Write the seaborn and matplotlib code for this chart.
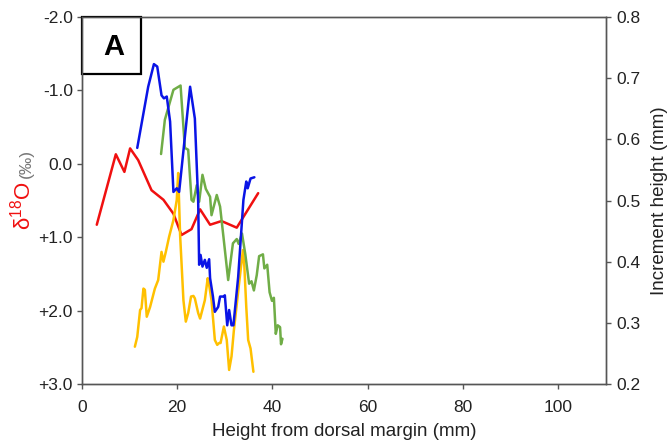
import numpy as np
import pandas as pd
import matplotlib
matplotlib.use("Agg")
import matplotlib.pyplot as plt
from matplotlib.patches import Rectangle
import seaborn as sns

# δ18O profile (left axis, inverted)
o18_height = [3.1, 7.1, 8.9, 10.1, 11.8, 14.6, 17.1, 19.2, 20.9, 23.0, 24.8,
              26.9, 29.3, 32.5, 37.0]
o18_value = [0.83, -0.13, 0.11, -0.21, -0.05, 0.36, 0.49, 0.68, 0.97, 0.89,
             0.62, 0.83, 0.78, 0.87, 0.40]

# Increment height profiles (right axis)
blue_height = [11.6, 13.9, 15.1, 15.8, 16.7, 17.2, 17.8, 18.5, 19.2, 19.9, 20.4,
               22.7, 23.7, 24.4, 24.6, 24.9, 25.3, 25.8, 26.2, 26.7, 26.9, 27.5,
               27.9, 28.6, 29.0, 29.7, 30.0, 30.5, 30.9, 31.4, 31.8, 32.8, 33.9,
               34.5, 34.8, 35.4, 36.2]
blue_incr = [0.586, 0.686, 0.723, 0.719, 0.672, 0.667, 0.670, 0.629, 0.514, 0.520,
             0.514, 0.686, 0.634, 0.498, 0.395, 0.411, 0.392, 0.403, 0.390, 0.404,
             0.373, 0.343, 0.318, 0.326, 0.343, 0.343, 0.345, 0.296, 0.321, 0.296,
             0.296, 0.375, 0.501, 0.531, 0.520, 0.536, 0.538]

green_height = [16.6, 17.4, 19.2, 20.7, 21.6, 22.3, 23.0, 23.4, 24.1, 24.6, 25.3,
                26.0, 26.9, 27.2, 28.3, 29.0, 29.7, 30.7, 31.7, 32.5, 32.9, 33.6,
                34.3, 35.1, 35.6, 36.1, 36.7, 37.2, 38.0, 38.3, 38.9, 39.4, 39.9,
                40.3, 40.7, 41.1, 41.6, 41.8, 42.1]
green_incr = [0.576, 0.632, 0.681, 0.688, 0.586, 0.583, 0.501, 0.498, 0.525, 0.498,
              0.542, 0.519, 0.506, 0.476, 0.509, 0.490, 0.441, 0.370, 0.430, 0.437,
              0.429, 0.446, 0.412, 0.364, 0.368, 0.353, 0.378, 0.409, 0.412, 0.389,
              0.395, 0.350, 0.336, 0.341, 0.282, 0.296, 0.293, 0.265, 0.274]

yellow_height = [11.1, 11.6, 12.2, 12.5, 12.9, 13.2, 13.6, 14.3, 15.3, 16.0, 16.7,
                 17.1, 17.6, 18.3, 19.2, 19.9, 20.2, 20.6, 21.3, 21.8, 22.3, 22.9,
                 23.4, 23.7, 24.4, 24.8, 25.1, 25.8, 26.4, 26.7, 27.2, 27.9, 28.4,
                 28.8, 29.1, 29.8, 30.4, 30.9, 31.4, 31.9, 33.0, 33.8, 34.1, 34.5,
                 34.9, 35.4, 36.0]
yellow_incr = [0.261, 0.277, 0.321, 0.324, 0.356, 0.354, 0.310, 0.326, 0.356, 0.370,
               0.416, 0.400, 0.416, 0.441, 0.468, 0.501, 0.545, 0.444, 0.337, 0.302,
               0.316, 0.343, 0.344, 0.340, 0.316, 0.307, 0.316, 0.337, 0.373, 0.362,
               0.337, 0.272, 0.264, 0.267, 0.267, 0.294, 0.272, 0.223, 0.245, 0.288,
               0.365, 0.419, 0.392, 0.326, 0.272, 0.258, 0.220]

left_ticks = [-2.0, -1.0, 0.0, 1.0, 2.0, 3.0]
left_tick_labels = ["-2.0", "-1.0", "0.0", "+1.0", "+2.0", "+3.0"]
right_ticks = [0.2, 0.3, 0.4, 0.5, 0.6, 0.7, 0.8]
x_ticks = [0, 20, 40, 60, 80, 100]

sns.set_style("white")
plt.rcParams["font.family"] = ["Liberation Sans", "DejaVu Sans"]
plt.rcParams["axes.edgecolor"] = "#555555"
plt.rcParams["axes.linewidth"] = 1.0

fig = plt.figure(figsize=(6.69, 4.42), dpi=100)
ax = fig.add_axes([0.1226, 0.1312, 0.9054 - 0.1226, 0.9615 - 0.1312])
ax2 = ax.twinx()

lw = 1.8
sns.lineplot(x=o18_height, y=o18_value, ax=ax, color="#f01010", lw=lw,
             sort=False, estimator=None)
sns.lineplot(x=yellow_height, y=yellow_incr, ax=ax2, color="#ffc000", lw=lw,
             sort=False, estimator=None)
sns.lineplot(x=green_height, y=green_incr, ax=ax2, color="#70ad47", lw=lw,
             sort=False, estimator=None)
sns.lineplot(x=blue_height, y=blue_incr, ax=ax2, color="#0a14e6", lw=lw,
             sort=False, estimator=None)

ax.set_xlim(0, 110)
ax.set_ylim(3.0, -2.0)
ax2.set_ylim(0.2, 0.8)

ax.set_xticks(x_ticks)
ax.set_yticks(left_ticks)
ax.set_yticklabels(left_tick_labels)
ax2.set_yticks(right_ticks)
ax2.set_yticklabels([f"{t:.1f}" for t in right_ticks])

for a in (ax, ax2):
    a.tick_params(axis="both", which="major", labelsize=12.5, length=3.5,
                  width=1.0, color="#555555", labelcolor="#222222",
                  direction="out")
ax.tick_params(axis="y", left=True, pad=3)
ax.tick_params(axis="x", bottom=True, pad=8)
ax2.tick_params(axis="y", right=True, pad=4)

ax.set_xlabel("Height from dorsal margin (mm)", fontsize=13.5, color="#222222",
              labelpad=6)
ax.set_ylabel("")
ax2.set_ylabel("Increment height (mm)", fontsize=13.5, color="#222222",
               labelpad=8)

# two-part left axis label: red δ18O followed by grey per-mil unit
ax.text(-0.113, 0.485, r"$\mathregular{\delta^{18}O}$", transform=ax.transAxes,
        rotation=90, color="#f01010", fontsize=16, ha="center", va="center")
ax.text(-0.106, 0.600, "(‰)", transform=ax.transAxes, rotation=90,
        color="#777777", fontsize=12.5, ha="center", va="center")

# panel letter in a boxed corner
box_w, box_h = 0.1127, 0.155
ax.add_patch(Rectangle((0.0, 1.0 - box_h), box_w, box_h, transform=ax.transAxes,
                       fc="white", ec="black", lw=1.6, zorder=5, clip_on=False))
ax.text(box_w / 2 + 0.004, 1.0 - box_h / 2 - 0.005, "A", transform=ax.transAxes,
        ha="center", va="center", fontsize=21, fontweight="bold",
        color="black", zorder=6)

fig.savefig("out.png", dpi=100)
